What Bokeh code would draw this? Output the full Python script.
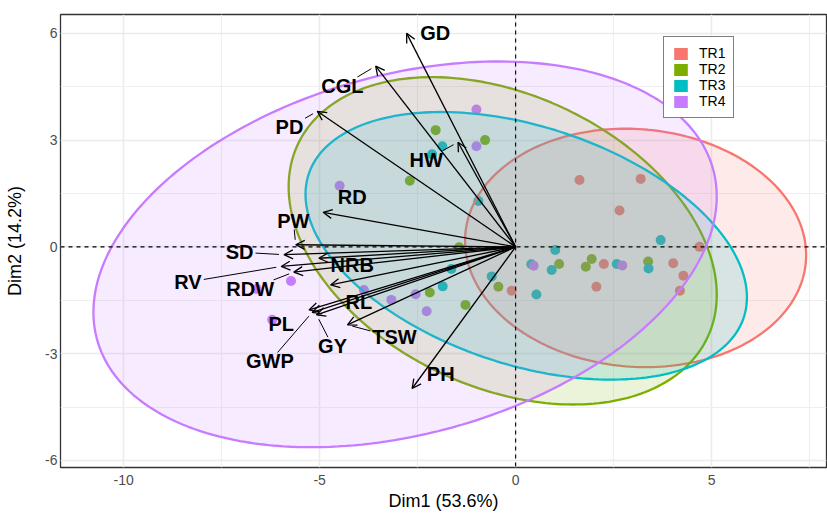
import numpy as np
from bokeh.plotting import figure
from bokeh.models import (ColumnDataSource, Arrow, OpenHead, Span, Legend, LegendItem,
                          FixedTicker, Range1d)
from bokeh.core.properties import value
from bokeh.embed import file_html
from bokeh.resources import INLINE

# ---- treatments -------------------------------------------------------------
groups = ["TR1", "TR2", "TR3", "TR4"]
group_colors = ["#F8766D", "#7CAE00", "#00BFC4", "#C77CFF"]

# individuals on the first two principal components
tr1_dim1 = [1.63, 3.19, 2.65, 4.69, 2.25, 4.02, 4.28, 2.06, -0.10, 4.19]
tr1_dim2 = [1.88, 1.91, 1.02, 0.00, -0.48, -0.46, -0.81, -1.12, -1.23, -1.23]

tr2_dim1 = [-2.04, -0.78, -2.70, -1.44, -2.19, -1.28, -0.44, 1.11, 1.94, 1.79, 3.38]
tr2_dim2 = [3.28, 3.00, 1.86, -0.01, -1.28, -1.63, -1.12, -0.48, -0.34, -0.56, -0.41]

tr3_dim1 = [-1.87, -2.13, -0.95, -1.64, -1.86, -0.61, 0.40, 1.01, 0.92, 0.53, 2.58, 3.39, 3.70]
tr3_dim2 = [2.83, 2.60, 1.29, -0.62, -1.11, -0.83, -0.49, -0.09, -0.65, -1.34, -0.48, -0.61, 0.19]

tr4_dim1 = [-1.00, -1.00, -4.49, -5.73, -6.21, -6.61, -3.87, -3.17, -2.55, -2.27, 0.46, 2.72]
tr4_dim2 = [3.86, 2.83, 1.72, -0.96, -2.05, -1.18, -1.21, -1.49, -1.33, -1.81, -0.53, -0.52]

group_dim1 = [tr1_dim1, tr2_dim1, tr3_dim1, tr4_dim1]
group_dim2 = [tr1_dim2, tr2_dim2, tr3_dim2, tr4_dim2]

# concentration ellipses: centre, spread on each dimension, correlation
ell_cx = [3.06, -0.33, 0.27, -2.82]
ell_cy = [-0.03, 0.17, 0.03, -0.21]
ell_sx = [4.35, 5.46, 5.63, 7.95]
ell_sy = [3.35, 4.60, 3.76, 5.42]
ell_r = [-0.06, -0.33, -0.385, 0.30]

# ---- variables --------------------------------------------------------------
var_names = ["GD", "CGL", "PD", "HW", "RD", "PW", "SD", "RV", "RDW", "NRB",
             "RL", "PL", "GWP", "GY", "TSW", "PH"]
var_dim1 = [-2.78, -3.57, -5.06, -1.47, -4.91, -5.61, -5.91, -5.98, -5.66, -5.02,
            -4.72, -5.27, -5.19, -5.08, -4.29, -2.64]
var_dim2 = [6.00, 5.08, 3.81, 2.94, 0.97, 0.06, -0.22, -0.55, -0.71, -0.32,
            -1.07, -1.77, -1.84, -1.91, -2.19, -3.98]

# repelled label positions and whether a leader line joins label and arrow tip
label_dim1 = [-2.05, -4.42, -5.77, -2.28, -4.17, -5.67, -7.04, -8.36, -6.77, -4.17,
              -4.00, -5.98, -6.27, -4.67, -3.09, -1.91]
label_dim2 = [6.02, 4.52, 3.36, 2.45, 1.41, 0.74, -0.15, -0.99, -1.18, -0.51,
              -1.55, -2.18, -3.22, -2.79, -2.54, -3.58]
leader = [False, True, True, True, False, True, True, True, True, False,
          False, False, True, True, True, False]

# ---- axes -------------------------------------------------------------------
x_lim = (-11.61, 7.93)
y_lim = (-6.20, 6.53)
x_ticks = [-10, -5, 0, 5]
x_tick_labels = ["-10", "-5", "0", "5"]
y_ticks = [-6, -3, 0, 3, 6]
y_tick_labels = ["-6", "-3", "0", "3", "6"]
x_title = "Dim1 (53.6%)"
y_title = "Dim2 (14.2%)"

FONT = "Liberation Sans"
W, H = 827, 513
BL, BR, BT, BB = 60, 1, 14, 45

p = figure(width=W, height=H, x_range=Range1d(*x_lim), y_range=Range1d(*y_lim),
           output_backend="svg", toolbar_location=None,
           min_border_left=BL, min_border_right=BR, min_border_top=BT,
           min_border_bottom=BB)
p.background_fill_color = "white"
p.border_fill_color = "white"
p.outline_line_color = "#333333"
p.outline_line_width = 1.3


def minor_between(ticks, lo, hi):
    step = ticks[1] - ticks[0]
    m = np.arange(ticks[0] - step / 2, ticks[-1] + step, step)
    return [float(v) for v in m if lo <= v <= hi]


for ax, ticks, labels, lim in ((p.xaxis[0], x_ticks, x_tick_labels, x_lim),
                               (p.yaxis[0], y_ticks, y_tick_labels, y_lim)):
    ax.ticker = FixedTicker(ticks=ticks, minor_ticks=minor_between(ticks, *lim))
    ax.major_label_overrides = {t: s for t, s in zip(ticks, labels)}
    ax.axis_line_color = None
    ax.major_tick_line_color = None
    ax.minor_tick_line_color = None
    ax.major_tick_out = 0
    ax.minor_tick_out = 0
    ax.major_label_text_font = FONT
    ax.major_label_text_font_size = "14px"
    ax.major_label_text_color = "#4D4D4D"
    ax.axis_label_text_font = FONT
    ax.axis_label_text_font_size = "18px"
    ax.axis_label_text_font_style = "normal"
    ax.axis_label_text_color = "black"

p.xaxis.axis_label = x_title
p.yaxis.axis_label = y_title
p.xaxis.major_label_standoff = 7
p.yaxis.major_label_standoff = 3
p.xaxis.axis_label_standoff = 3
p.yaxis.axis_label_standoff = 17

for g in (p.xgrid[0], p.ygrid[0]):
    g.grid_line_color = "#EBEBEB"
    g.grid_line_width = 1.5
    g.minor_grid_line_color = "#EFEFEF"
    g.minor_grid_line_width = 1.2
p.xgrid.ticker = p.xaxis[0].ticker
p.ygrid.ticker = p.yaxis[0].ticker

# individuals
for xs, ys, col in zip(group_dim1, group_dim2, group_colors):
    p.scatter(xs, ys, size=10, fill_color=col, line_color=None)

# concentration ellipses
t = np.linspace(0, 2 * np.pi, 240)
for cx, cy, sx, sy, r, col in zip(ell_cx, ell_cy, ell_sx, ell_sy, ell_r, group_colors):
    ex = cx + sx * np.cos(t)
    ey = cy + sy * (r * np.cos(t) + np.sqrt(1 - r * r) * np.sin(t))
    p.patch(ex, ey, fill_color=col, fill_alpha=0.15, line_color=col, line_width=2.3)

# reference lines through the origin
for dim in ("width", "height"):
    p.add_layout(Span(location=0, dimension=dim, line_color="black",
                      line_dash="4 4", line_width=1.1))

# variable arrows
arrow_src = ColumnDataSource(dict(x0=np.zeros(len(var_names)), y0=np.zeros(len(var_names)),
                                  x1=var_dim1, y1=var_dim2))
p.add_layout(Arrow(source=arrow_src, x_start="x0", y_start="y0", x_end="x1", y_end="y1",
                   line_color="black", line_width=1.3,
                   end=OpenHead(size=9, line_color="black", line_width=1.3)))

# leader lines from labels to arrow tips (computed in screen pixels)
kx = (W - BL - BR) / (x_lim[1] - x_lim[0])
ky = (H - BT - BB) / (y_lim[1] - y_lim[0])
em = {"A": .722, "B": .722, "C": .722, "D": .722, "G": .778, "H": .722, "L": .611,
      "N": .722, "P": .667, "R": .722, "S": .667, "T": .611, "V": .667, "W": .944,
      "Y": .667}
LABEL_PX = 20
sx0, sy0, sx1, sy1 = [], [], [], []
for name, tx, ty, lx, ly, show in zip(var_names, var_dim1, var_dim2,
                                      label_dim1, label_dim2, leader):
    if not show:
        continue
    dx, dy = (tx - lx) * kx, (ty - ly) * ky
    dist = np.hypot(dx, dy)
    hw = sum(em[c] for c in name) * LABEL_PX / 2 + 2
    hh = 9
    te = min(hw / abs(dx) if dx else np.inf, hh / abs(dy) if dy else np.inf)
    gap = 5 / dist
    sx0.append(lx + te * dx / kx)
    sy0.append(ly + te * dy / ky)
    sx1.append(tx - gap * dx / kx)
    sy1.append(ty - gap * dy / ky)
p.segment(sx0, sy0, sx1, sy1, line_color="black", line_width=1.0)

# variable labels
p.text(label_dim1, label_dim2, text=var_names, text_font=value(FONT),
       text_font_style="bold", text_font_size=f"{LABEL_PX}px", text_color="black",
       text_align="center", text_baseline="middle")

# legend with filled swatches
items = []
for g, col in zip(groups, group_colors):
    nan = np.array([np.nan])
    r = p.quad(left=nan, right=nan, top=nan, bottom=nan, fill_color=col, line_color=None)
    items.append(LegendItem(label=g, renderers=[r]))
legend = Legend(items=items, location=(603, 349), margin=0, padding=8, spacing=0,
                glyph_width=17, glyph_height=15, label_height=15, label_standoff=10,
                label_text_font=FONT, label_text_font_size="14px",
                label_text_color="black", border_line_color="black",
                border_line_width=1.5, background_fill_color="white",
                background_fill_alpha=1.0)
p.add_layout(legend)

with open("out.html", "w") as f:
    f.write(file_html(p, INLINE))
